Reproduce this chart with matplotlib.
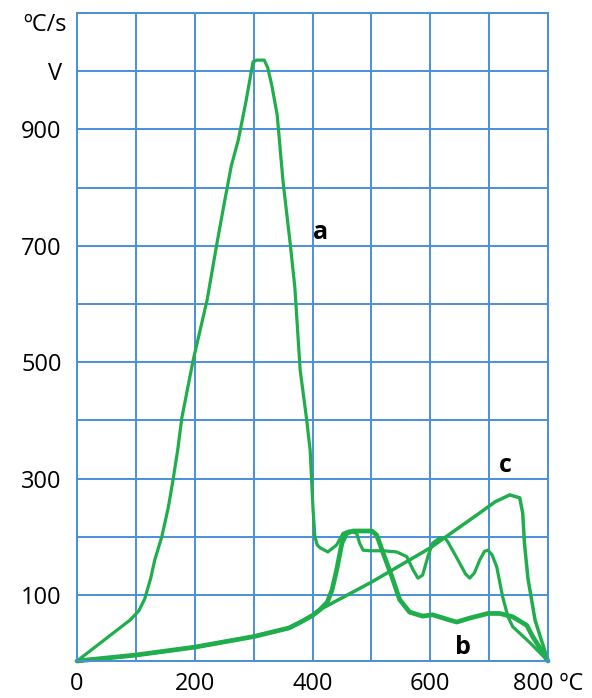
import numpy as np
import matplotlib
matplotlib.use("Agg")
import matplotlib.pyplot as plt

plt.rcParams['font.family'] = ['Open Sans', 'DejaVu Sans']

# ---- data ----
a_x = [0, 45, 90, 105, 115, 125, 132, 144, 155, 163, 171, 178, 197, 221, 238, 251, 262, 274, 287,
       299, 305, 318, 324, 331, 340, 350, 362, 370, 379, 390, 396, 401, 404, 408, 413, 426, 441, 452,
       462, 475, 480, 486, 497, 520, 543, 560, 571, 579, 587, 596, 604, 616, 625, 630, 645, 660,
       667, 675, 684, 692, 698, 705, 713, 723, 732, 740, 769, 800]
a_y = [0, 31, 62, 76, 94, 128, 160, 200, 250, 297, 349, 404, 502, 607, 706, 778, 837, 882, 948,
       1016, 1019, 1019, 1006, 975, 925, 810, 705, 629, 487, 402, 349, 246, 200, 186, 181, 174, 186, 206,
       210, 206, 189, 177, 176, 176, 174, 166, 143, 129, 134, 166, 189, 198, 198, 191, 164, 136,
       129, 138, 160, 175, 177, 169, 148, 97, 67, 52, 28, 0]

b_x = [0, 100, 200, 300, 360, 380, 400, 413, 425, 433, 441, 450, 458, 469, 501, 509, 520, 535,
       548, 565, 587, 604, 633, 645, 667, 698, 718, 740, 764, 774, 800]
b_y = [0, 9, 21, 37, 50, 59, 69, 78, 89, 108, 143, 189, 206, 210, 210, 203, 172, 131,
       93, 74, 68, 70, 62, 59, 65, 72, 72, 67, 54, 37, 0]

c_x = [0, 100, 200, 300, 360, 380, 400, 413, 500, 600, 684, 710, 735, 752, 757, 760, 766, 778, 800]
c_y = [0, 9, 21, 37, 50, 59, 69, 78, 122, 181, 241, 260, 272, 267, 241, 189, 128, 62, 0]

x_ticks = [0, 200, 400, 600, 800]
x_labels = ['0', '200', '400', '600', '800 ºC']
y_ticks = [100, 300, 500, 700, 900, 1000]
y_labels = ['100', '300', '500', '700', '900', 'V']

curve_labels = ['a', 'b', 'c']
label_x = [413, 655, 727]
label_y = [723, 20, 322]

# ---- style ----
GREEN = '#1fae4b'
BLUE = '#4a8fdb'

# bottom grid cell is drawn taller than the others in the original
K = 66.0 / 58.2


def fwd(y):
    y = np.asarray(y, dtype=float)
    return np.where(y < 100, y * K, y + 100 * (K - 1))


def inv(u):
    u = np.asarray(u, dtype=float)
    return np.where(u < 100 * K, u / K, u - 100 * (K - 1))


fig = plt.figure(figsize=(5.92, 6.98), dpi=100)
ax = fig.add_axes([77 / 592, 37 / 698, 471 / 592, 648 / 698])
ax.set_yscale('function', functions=(fwd, inv))
ax.set_xlim(0, 800)
ax.set_ylim(0, 1100)

ax.set_xticks(np.arange(0, 801, 100), minor=True)
ax.set_yticks(np.arange(0, 1101, 100), minor=True)
ax.set_xticks(x_ticks)
ax.set_xticklabels(x_labels)
ax.set_yticks(y_ticks)
ax.set_yticklabels(y_labels)
ax.grid(True, which='both', color=BLUE, linewidth=1.4)
ax.set_axisbelow(True)
for s in ax.spines.values():
    s.set_color(BLUE)
    s.set_linewidth(1.4)
ax.tick_params(which='both', length=0)
ax.tick_params(axis='x', pad=8, labelsize=17)
ax.tick_params(axis='y', pad=11, labelsize=17)

ax.plot(a_x, a_y, color=GREEN, lw=2.3, clip_on=False, solid_joinstyle='round', solid_capstyle='round')
ax.plot(b_x, b_y, color=GREEN, lw=3.4, clip_on=False, solid_joinstyle='round', solid_capstyle='round')
ax.plot(c_x, c_y, color=GREEN, lw=2.5, clip_on=False, solid_joinstyle='round', solid_capstyle='round')

for t, x, y in zip(curve_labels, label_x, label_y):
    ax.text(x, y, t, fontsize=18, fontweight='bold', ha='center', va='center', color='black')

fig.text(67 / 592, 1 - 25 / 698, 'ºC/s', fontsize=17, ha='right', va='center')

fig.savefig('out.png', dpi=100, facecolor='white')
